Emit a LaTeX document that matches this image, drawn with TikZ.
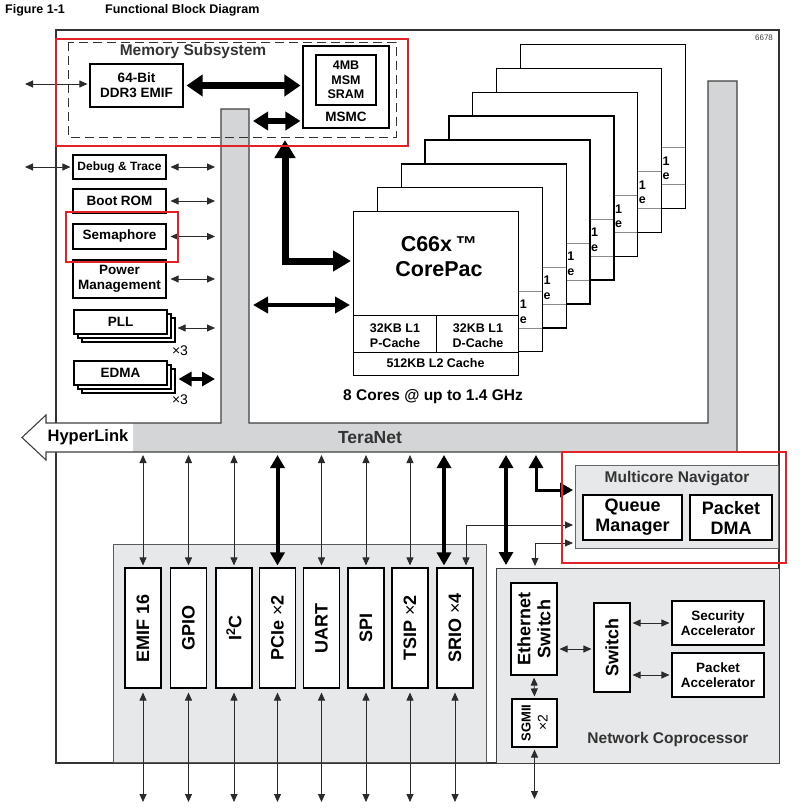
\documentclass[tikz,border=0pt]{standalone}
\usepackage{fontspec}
\setmainfont{Liberation Sans}
\usetikzlibrary{arrows.meta,calc}
\definecolor{busgray}{HTML}{D4D5D7}
\definecolor{boxgray}{HTML}{E7E8E9}
\definecolor{dtext}{HTML}{333333}
\definecolor{redbox}{HTML}{E32228}
\definecolor{linec}{HTML}{2B2B2B}
\tikzset{
  blk/.style={draw=black, line width=1.1pt, fill=white, inner sep=0pt, align=center},
  fA/.style={font=\bfseries\fontsize{12}{14}\selectfont},
  fB/.style={font=\bfseries\fontsize{13.5}{15}\selectfont},
  fC/.style={font=\bfseries\fontsize{12.5}{14.5}\selectfont},
  fD/.style={font=\bfseries\fontsize{15.5}{18}\selectfont},
  fE/.style={font=\bfseries\fontsize{18}{20}\selectfont},
  fF/.style={font=\bfseries\fontsize{21.5}{25}\selectfont},
  tarr/.style={draw=linec, line width=0.9pt, >={Triangle[length=8pt,width=7pt]}},
  thk/.style={draw=black, line width=4pt, >={Triangle[length=13pt,width=14pt]}},
  fat/.style={draw=black, line width=7pt, >={Triangle[length=16pt,width=21pt]}},
  redframe/.style={draw=redbox, line width=2.5pt},
}
\begin{document}
\begin{tikzpicture}[x=1pt,y=-1pt]
\useasboundingbox (0,0) rectangle (803,811);
\fill[white] (0,0) rectangle (803,811);
% title
\node[anchor=west, font=\bfseries\fontsize{12.5}{14}\selectfont, inner sep=0pt] (fig) at (5,10) {Figure 1-1};
\node[anchor=west, font=\bfseries\fontsize{12.5}{14}\selectfont, inner sep=0pt] (ftitle) at (105,10) {Functional Block Diagram};
% frame
\draw[black!80, line width=1.1pt] (56,30) rectangle (779,763);
\node[font=\fontsize{8}{9}\selectfont, text=black!75] (code) at (764,38) {6678};
% gray containers
\node[draw=black!65, fill=boxgray, line width=0.9pt, minimum width=373pt, minimum height=218pt, anchor=north west, inner sep=0pt] (perif) at (113,544) {};
\node[draw=black!75, fill=boxgray, line width=1.2pt, minimum width=283pt, minimum height=195pt, anchor=north west, inner sep=0pt] (nc) at (496,568) {};
\node[draw=black!60, fill=boxgray, line width=1.2pt, minimum width=203pt, minimum height=83pt, anchor=north west, inner sep=0pt] (nav) at (575,465) {};
% TeraNet
\fill[busgray] (221,109) -- (249,109) -- (249,423) -- (708,423) -- (708,81) -- (737,81) -- (737,452) -- (46,452) -- (46,460) -- (22,437.5) -- (46,415) -- (46,423) -- (221,423) -- cycle;
\fill[white] (133,423) -- (46,423) -- (46,415) -- (22,437.5) -- (46,460) -- (46,452) -- (133,452) -- cycle;
\draw[black!75, line width=1.1pt] (221,109) -- (249,109) -- (249,423) -- (708,423) -- (708,81) -- (737,81) -- (737,452) -- (46,452) -- (46,460) -- (22,437.5) -- (46,415) -- (46,423) -- (221,423) -- cycle;
\node[font=\bfseries\fontsize{16.5}{18}\selectfont] (hl) at (88,437.5) {HyperLink};
\node[font=\bfseries\fontsize{17.5}{20}\selectfont, text=dtext] (tn) at (370,437.5) {TeraNet};
% memory subsystem
\draw[black!80, line width=1pt, dash pattern=on 9pt off 5pt] (68,42) rectangle (396,137);
\node[fD, text=dtext] (memt) at (193,51) {Memory Subsystem};
\node[blk, fB, minimum width=93pt, minimum height=43pt] (ddr) at (136.5,85.5) {64-Bit\\DDR3 EMIF};
\node[blk, minimum width=86pt, minimum height=82pt] (msmc) at (346,87) {};
\node[blk, fC, minimum width=60pt, minimum height=50pt] (sram) at (346,80) {4MB\\MSM\\SRAM};
\node[fB] (msmct) at (346,117) {MSMC};
% cores (back to front)
\foreach \i/\lc in {7/black!45,6/black!45,5/black!45,4/black!45,3/black!45,2/black!45,1/black!45,0/black}{
  \pgfmathsetmacro\ox{353+23.8*\i}
  \pgfmathsetmacro\oy{211-23.9*\i}
  \node[blk, line width=1.3pt, minimum width=165pt, minimum height=164pt, anchor=north west] (core\i) at (\ox,\oy) {};
  \draw[draw=\lc, line width=1pt] (\ox,\oy+104) -- (\ox+165,\oy+104);
  \draw[draw=\lc, line width=1pt] (\ox,\oy+141) -- (\ox+165,\oy+141);
  \draw[draw=\lc, line width=1pt] (\ox+83,\oy+104) -- (\ox+83,\oy+141);
  \ifnum\i=0
    \node[fF, align=center] (cpac\i) at (\ox+86,\oy+46) {C66x\,™\\CorePac};
    \node[fC, align=center] (lp\i) at (\ox+42,\oy+124.5) {32KB L1\\P-Cache};
    \node[fC, align=center] (ld\i) at (\ox+125,\oy+124.5) {32KB L1\\D-Cache};
    \node[fC] (ltwo\i) at (\ox+82.5,\oy+152) {512KB L2 Cache};
  \else
    \node[fC, anchor=base, inner sep=0pt] (fa\i) at (\ox+146.5,\oy+121.5) {1};
    \node[fC, anchor=base, inner sep=0pt] (fb\i) at (\ox+146.5,\oy+136) {e};
  \fi
}
\node[fD] (cores8) at (433,397) {8 Cores @ up to 1.4 GHz};
% left column
\node[blk, fA, minimum width=93pt, minimum height=24pt] (debug) at (119.5,167) {Debug \& Trace};
\node[blk, fB, minimum width=93pt, minimum height=24pt] (boot) at (119.5,201) {Boot ROM};
\node[blk, fB, minimum width=93pt, minimum height=25pt] (sema) at (119.5,236.5) {Semaphore};
\node[blk, fB, minimum width=93pt, minimum height=38pt] (power) at (119.5,279) {Power\\Management};
\node[blk, minimum width=93pt, minimum height=24pt] (pll3) at (128.5,330) {};
\node[blk, minimum width=93pt, minimum height=24pt] (pll2) at (124.5,326) {};
\node[blk, fB, minimum width=93pt, minimum height=24pt] (pll) at (120.5,322) {PLL};
\node[font=\fontsize{14}{16}\selectfont] (pllx) at (180,351) {×3};
\node[blk, minimum width=93pt, minimum height=24pt] (edma3) at (128.5,381) {};
\node[blk, minimum width=93pt, minimum height=24pt] (edma2) at (124.5,377) {};
\node[blk, fB, minimum width=93pt, minimum height=24pt] (edma) at (120.5,373) {EDMA};
\node[font=\fontsize{14}{16}\selectfont] (edmax) at (180,400) {×3};
% peripherals
\foreach \nm/\x/\lbl in {emif/143/{EMIF 16}, gpio/188.5/GPIO, i2c/234/{I\textsuperscript{2}C}, pcie/277.5/{PCIe\ \textmd{×}2}, uart/321.5/UART, spi/366/SPI, tsip/410/{TSIP\ \textmd{×}2}, srio/455/{SRIO\ \textmd{×}4}}{
  \node[blk, minimum width=36pt, minimum height=120pt] (\nm) at (\x,628) {};
  \node[fE, rotate=90] (\nm-t) at (\nm) {\lbl};
}
% network coprocessor
\node[blk, minimum width=46pt, minimum height=92pt] (eth) at (534,629) {};
\node[fE, rotate=90, align=center] (eth-t) at (eth) {Ethernet\\Switch};
\node[blk, minimum width=45pt, minimum height=48pt] (sgmii) at (534.5,723) {};
\node[rotate=90, align=center, font=\fontsize{14}{17}\selectfont] (sgmii-t) at (sgmii) {{\bfseries\fontsize{13}{17}\selectfont SGMII}\\×2};
\node[blk, minimum width=36pt, minimum height=89pt] (sw) at (612,647.5) {};
\node[fE, rotate=90] (sw-t) at (sw) {Switch};
\node[blk, fB, minimum width=92pt, minimum height=44pt] (sec) at (718,623) {Security\\Accelerator};
\node[blk, fB, minimum width=92pt, minimum height=44pt] (pka) at (718,675) {Packet\\Accelerator};
\node[fD, text=dtext] (nct) at (668,739) {Network Coprocessor};
% navigator
\node[fD, text=dtext] (navt) at (677,479) {Multicore Navigator};
\node[blk, fE, line width=1.4pt, minimum width=99pt, minimum height=45pt] (qm) at (632.5,517.5) {Queue\\Manager};
\node[blk, fE, line width=1.4pt, minimum width=82pt, minimum height=45pt] (pdma) at (731,517.5) {Packet\\DMA};
% ---- connectors ----
\coordinate (tnb) at (0,455);
\coordinate (pinb) at (0,802);
\foreach \nm in {emif,gpio,i2c,uart,spi,tsip}{
  \draw[tarr,<->,shorten >=2pt] (\nm.north |- tnb) -- (\nm.north);
}
\foreach \nm in {emif,gpio,i2c,pcie,uart,spi,tsip,srio}{
  \draw[tarr,<->,shorten <=4pt] (\nm.south) -- (\nm.south |- pinb);
}
\draw[thk,<->,shorten >=2pt] (pcie.north |- tnb) -- (pcie.north);
\coordinate (sriot) at ([xshift=-11pt]srio.north);
\draw[thk,<->,shorten >=2pt] (sriot |- tnb) -- (sriot);
\coordinate (srioq) at ([xshift=11pt]srio.north);
\coordinate (ny1) at (0,490);
\coordinate (ny2) at (0,525);
\coordinate (ny3) at (0,543);
\coordinate (lt) at (536,455);
\draw[thk,<->,line width=3pt,shorten >=2pt] (lt) |- (nav.west |- ny1);
\draw[tarr,<->,shorten <=2pt,shorten >=2pt] (nav.west |- ny2) -| (srioq);
\coordinate (ncx) at (535,0);
\draw[tarr,<->,shorten <=2pt,shorten >=2pt] (nav.west |- ny3) -| (nc.north -| ncx);
\coordinate (t5) at (506,455);
\draw[thk,<->,shorten >=3pt] (t5) -- (t5 |- nc.north);
% network coprocessor arrows
\draw[tarr,<->,shorten <=2pt,shorten >=2pt] (eth.south) -- (sgmii.north);
\coordinate (sgb) at (0,799);
\draw[tarr,<->,shorten <=2pt] (sgmii.south) -- (sgmii.south |- sgb);
\coordinate (esy) at (0,649);
\draw[tarr,<->,shorten <=2pt,shorten >=2pt] (eth.east |- esy) -- (sw.west |- esy);
\draw[tarr,<->,shorten <=2pt,shorten >=2pt] (sw.east |- sec) -- (sec.west);
\draw[tarr,<->,shorten <=2pt,shorten >=2pt] (sw.east |- pka) -- (pka.west);
% left column arrows
\coordinate (lb) at (215,0);
\foreach \nm in {debug,boot,sema,power}{
  \draw[tarr,<->,shorten <=4pt] (\nm.east) -- (\nm.east -| lb);
}
\coordinate (pllay) at (0,328);
\draw[tarr,<->,shorten <=2pt] (pll3.east |- pllay) -- (lb |- pllay);
\coordinate (edmay) at (0,379);
\draw[thk,<->,line width=4.5pt,shorten <=3pt] (edma3.east |- edmay) -- (lb |- edmay);
\coordinate (ext1) at (25,84);
\draw[tarr,<->,shorten >=2pt] (ext1) -- (ddr.west |- ext1);
\coordinate (ext2) at (25,167);
\draw[tarr,<->,shorten >=2pt] (ext2) -- (debug.west);
% memory arrows
\draw[fat,<->,shorten <=3pt,shorten >=2pt] (ddr.east) -- (msmc.west |- ddr.east);
\coordinate (ms2) at (253,121);
\draw[fat,<->,line width=6pt,>={Triangle[length=15pt,width=18pt]},shorten >=2pt] (ms2) -- (msmc.west |- ms2);
\coordinate (mstap) at (285,140);
\coordinate (cly) at (0,261);
\draw[fat,<->,>={Triangle[length=18pt,width=20pt]},shorten >=2pt] (mstap) |- (core0.west |- cly);
\coordinate (ca) at (253,305);
\draw[thk,<->,line width=4.5pt,>={Triangle[length=15pt,width=16pt]},shorten >=3pt] (ca) -- (core0.west |- ca);
% red highlight boxes
\draw[redframe] (56,39) rectangle (408,146);
\draw[redframe] (66,212) rectangle (178,262);
\draw[redframe] (562,452) rectangle (786,563);
\end{tikzpicture}
\end{document}
